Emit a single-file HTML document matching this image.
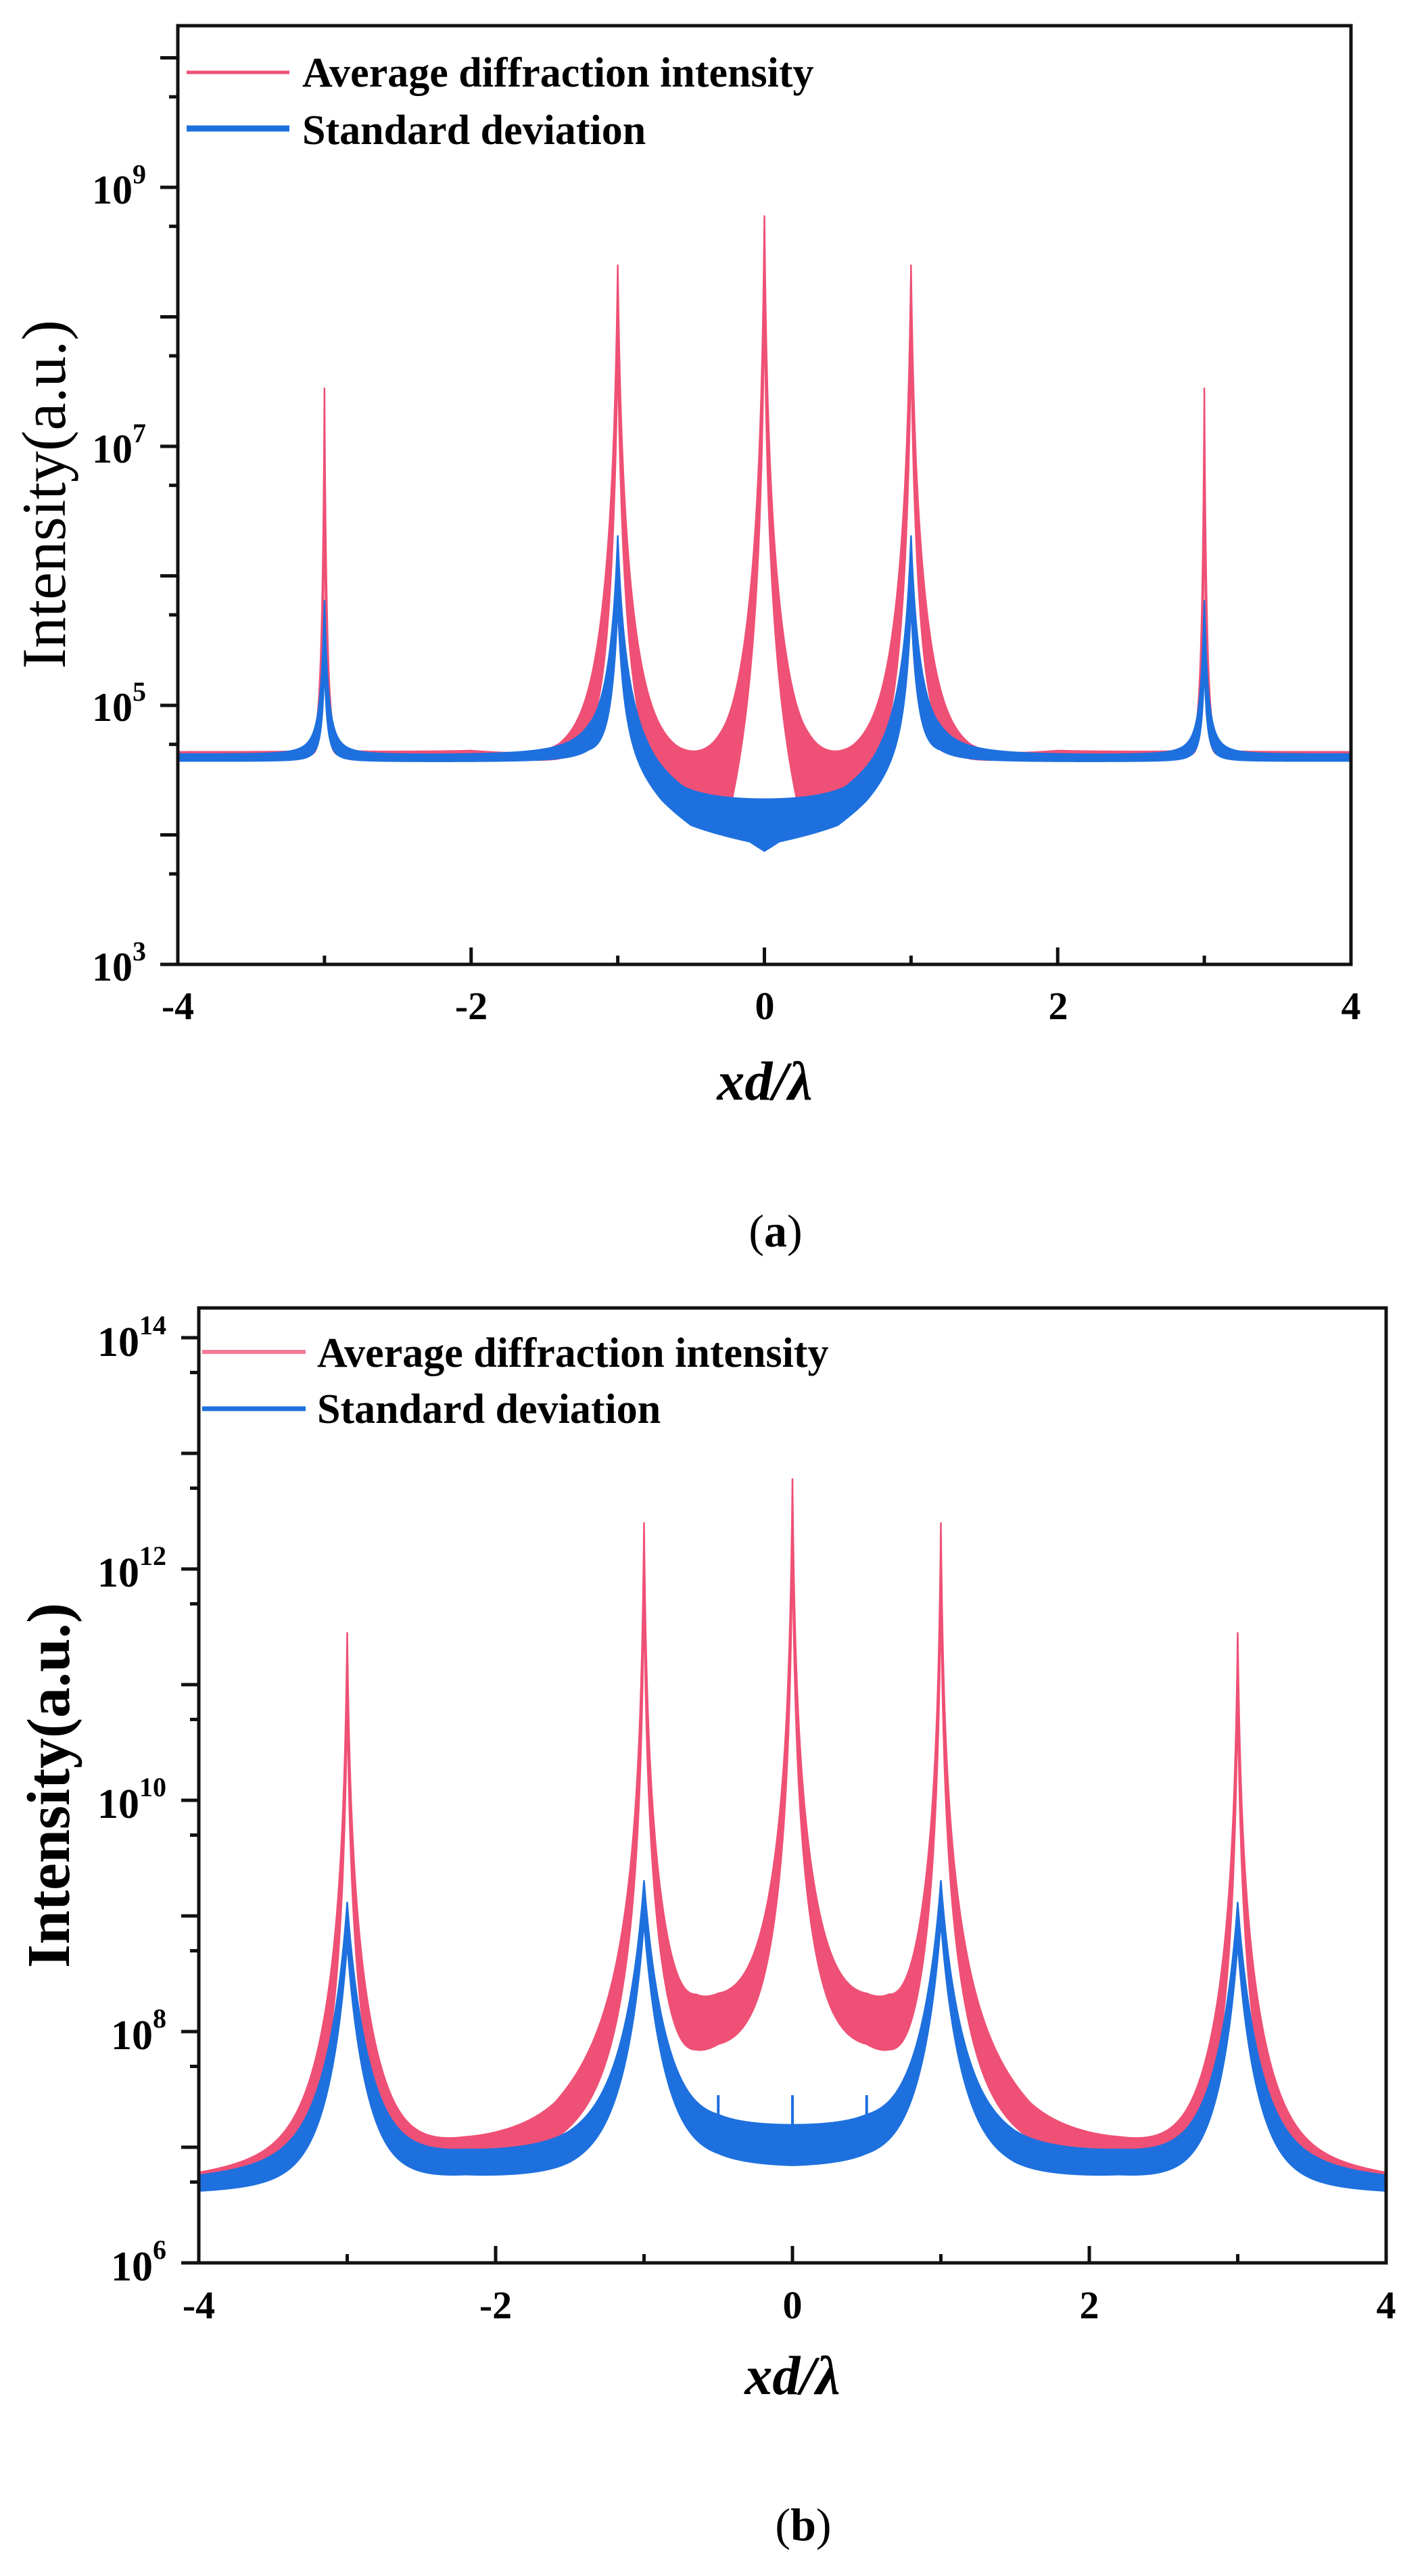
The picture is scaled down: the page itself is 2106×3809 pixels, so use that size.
<!DOCTYPE html>
<html><head><meta charset="utf-8">
<style>
html,body{margin:0;padding:0;background:#fff;}
svg{display:block;}
text{font-family:"Liberation Serif","Times New Roman",serif;fill:#000;}
</style></head>
<body>
<svg id="s" width="2106" height="3809" viewBox="0 0 2106 3809" xmlns="http://www.w3.org/2000/svg">
<defs>
<clipPath id="ca"><rect x="263" y="38" width="1735" height="1388"/></clipPath>
<clipPath id="cb"><rect x="294" y="1934" width="1756" height="1412"/></clipPath>
</defs>
<g id="ga" clip-path="url(#ca)"></g>
<g id="gb" clip-path="url(#cb)"></g>
<g id="axes"></g>

<g font-weight="bold" font-size="60" text-anchor="end">
<text x="216" y="1450">10<tspan font-size="40" dy="-30">3</tspan></text>
<text x="216" y="1066">10<tspan font-size="40" dy="-30">5</tspan></text>
<text x="216" y="684">10<tspan font-size="40" dy="-30">7</tspan></text>
<text x="216" y="301">10<tspan font-size="40" dy="-30">9</tspan></text>
</g>
<g font-weight="bold" font-size="58" text-anchor="middle">
<text x="263" y="1507">-4</text>
<text x="697" y="1507">-2</text>
<text x="1131" y="1507">0</text>
<text x="1565" y="1507">2</text>
<text x="1998" y="1507">4</text>
</g>
<text x="1131" y="1626" text-anchor="middle" font-size="82" font-weight="bold" font-style="italic">xd/λ</text>
<text transform="translate(96,731) rotate(-90)" text-anchor="middle" font-size="92">Intensity(a.u.)</text>
<line x1="276" y1="107" x2="428" y2="107" stroke="#EF5075" stroke-width="5"/>
<line x1="276" y1="190" x2="428" y2="190" stroke="#1E70DE" stroke-width="9"/>
<text x="447" y="128" font-size="62" font-weight="bold">Average diffraction intensity</text>
<text x="447" y="213" font-size="62" font-weight="bold">Standard deviation</text>
<text x="1147" y="1843" text-anchor="middle" font-size="68">(<tspan font-weight="bold">a</tspan>)</text>

<g font-weight="bold" font-size="62" text-anchor="end">
<text x="246" y="3372">10<tspan font-size="40" dy="-32">6</tspan></text>
<text x="246" y="3030">10<tspan font-size="40" dy="-32">8</tspan></text>
<text x="246" y="2688">10<tspan font-size="40" dy="-32">10</tspan></text>
<text x="246" y="2346">10<tspan font-size="40" dy="-32">12</tspan></text>
<text x="246" y="2005">10<tspan font-size="40" dy="-32">14</tspan></text>
</g>
<g font-weight="bold" font-size="58" text-anchor="middle">
<text x="294" y="3428">-4</text>
<text x="733" y="3428">-2</text>
<text x="1172" y="3428">0</text>
<text x="1611" y="3428">2</text>
<text x="2050" y="3428">4</text>
</g>
<text x="1172" y="3540" text-anchor="middle" font-size="82" font-weight="bold" font-style="italic">xd/λ</text>
<text transform="translate(102,2640) rotate(-90)" text-anchor="middle" font-size="90" font-weight="bold">Intensity(a.u.)</text>
<line x1="299" y1="1999" x2="452" y2="1999" stroke="#F27A95" stroke-width="6"/>
<line x1="299" y1="2083" x2="452" y2="2083" stroke="#1E70DE" stroke-width="7"/>
<text x="469" y="2021" font-size="62" font-weight="bold">Average diffraction intensity</text>
<text x="469" y="2104" font-size="62" font-weight="bold">Standard deviation</text>
<text x="1188" y="3756" text-anchor="middle" font-size="68">(<tspan font-weight="bold">b</tspan>)</text>
</svg>
<script>
(function(){
var NS="http://www.w3.org/2000/svg";
function el(p,t,a){var e=document.createElementNS(NS,t);for(var k in a)e.setAttribute(k,a[k]);p.appendChild(e);return e;}
function interp(tab,x){x=Math.abs(x);for(var i=1;i<tab.length;i++){if(x<=tab[i][0]){var a=tab[i-1],b=tab[i];var t=(x-a[0])/(b[0]-a[0]);return a[1]+t*(b[1]-a[1]);}}return tab[tab.length-1][1];}
function model(x,base,peaks,f){var v=Math.pow(10,interp(base,x));for(var i=0;i<peaks.length;i++){var p=peaks[i];var d=Math.abs(x-p[0]);v+=f*p[1]/Math.pow(1+d/p[2],p[3]);}return Math.log(v)/Math.LN10;}
function band(g,X,Y,up,lo,color){
 var pts=[],i,x;
 for(i=0;i<=4000;i++){x=i/500-4;pts.push(X(x).toFixed(2)+","+Y(up(x)).toFixed(2));}
 for(i=4000;i>=0;i--){x=i/500-4;pts.push(X(x).toFixed(2)+","+Y(lo(x)).toFixed(2));}
 el(g,"polygon",{points:pts.join(" "),fill:color,stroke:color,"stroke-width":"2.5","stroke-linejoin":"round"});
}
var RED="#EF5075",BLUE="#1E70DE";
var Xa=function(u){return 263+(u+4)*216.875;};
var Ya=function(l){return 277+(9-l)*191.5;};
var ga=document.getElementById("ga");
var rpA=[[0,6e8,0.0115,3],[-1,2.5e8,0.0155,3],[1,2.5e8,0.0155,3],[-3,2.8e7,0.006,3],[3,2.8e7,0.006,3]];
var rUa=[[0,4.2],[0.3,4.45],[0.6,4.5],[0.9,4.6],[1.2,4.6],[1.4,4.57],[2,4.64],[4,4.64]];
var rLa=[[0,1],[0.22,1],[0.3,4.1],[0.6,4.15],[0.9,4.45],[1.15,4.58],[1.4,4.55],[2,4.6],[4,4.6]];
band(ga,Xa,Ya,function(x){return model(x,rUa,rpA,1);},function(x){return model(x,rLa,rpA,0.25);},RED);
var bpA=[[-1,2e6,0.028,2],[1,2e6,0.028,2],[-3,6e5,0.017,2],[3,6e5,0.017,2]];
var bUa=[[0,4.2],[0.55,4.2],[0.75,4.3],[1.0,4.5],[1.2,4.6],[4,4.62]];
var bLa=[[0,3.82],[0.1,3.9],[0.3,3.95],[0.5,4.0],[0.7,4.15],[1.0,4.45],[1.2,4.56],[4,4.57]];
band(ga,Xa,Ya,function(x){return model(x,bUa,bpA,1);},function(x){return model(x,bLa,bpA,0.3);},BLUE);
var Xb=function(u){return 294+(u+4)*219.5;};
var Yb=function(l){return 3346-(l-6)*171;};
var gb=document.getElementById("gb");
var rpB=[[0,6e12,0.0104,3],[-1,2.5e12,0.0104,3],[1,2.5e12,0.0104,3],[-3,2.8e11,0.0128,3],[3,2.8e11,0.0128,3]];
var rUb=[[0,8.0],[0.3,8.1],[0.5,8.15],[0.65,8.1],[0.85,7.8],[1.2,7.3],[1.6,7.0],[2.2,6.95],[2.7,6.85],[3.3,6.8],[4,6.72]];
var rLb=[[0,7.7],[0.3,7.75],[0.5,7.75],[0.65,7.65],[0.85,7.4],[1.2,7.0],[1.6,6.88],[2.2,6.88],[3,6.72],[4,6.62]];
band(gb,Xb,Yb,function(x){return model(x,rUb,rpB,1);},function(x){return model(x,rLb,rpB,0.3);},RED);
var bpB=[[-1,2e9,0.077,3],[1,2e9,0.077,3],[-3,1.3e9,0.074,3],[3,1.3e9,0.074,3]];
var bUb=[[0,7.15],[0.5,7.15],[0.7,7.1],[1.5,6.95],[2.2,6.92],[3,6.8],[4,6.72]];
var bLb=[[0,6.8],[0.5,6.82],[1.5,6.72],[2.2,6.72],[3,6.62],[4,6.6]];
band(gb,Xb,Yb,function(x){return model(x,bUb,bpB,1);},function(x){return model(x,bLb,bpB,0.45);},BLUE);
[-0.5,0.5,0].forEach(function(u){el(gb,"line",{x1:Xb(u),x2:Xb(u),y1:Yb(7.45),y2:Yb(7.1),stroke:BLUE,"stroke-width":4});});
var ax=document.getElementById("axes");
function axesPanel(L,R,T,B,Xf,Yf,lmin,lmax){
 el(ax,"rect",{x:L,y:T,width:R-L,height:B-T,fill:"none",stroke:"#111","stroke-width":5});
 for(var u=-3;u<=3;u++){var len=(u%2===0)?25:13;el(ax,"line",{x1:Xf(u),x2:Xf(u),y1:B,y2:B-len,stroke:"#111","stroke-width":5});}
 for(var l=lmin;l<=lmax;l++){var y=Yf(l);if(y>=T-1&&y<=B+1)el(ax,"line",{x1:L-26,x2:L,y1:y,y2:y,stroke:"#111","stroke-width":5});
  var y2=Yf(l+Math.log(5)/Math.LN10);if(y2>T&&y2<B)el(ax,"line",{x1:L-13,x2:L,y1:y2,y2:y2,stroke:"#111","stroke-width":5});}
}
axesPanel(263,1998,38,1426,Xa,Ya,3,10);
axesPanel(294,2050,1934,3346,Xb,Yb,6,14);
})();
</script>
</body></html>
